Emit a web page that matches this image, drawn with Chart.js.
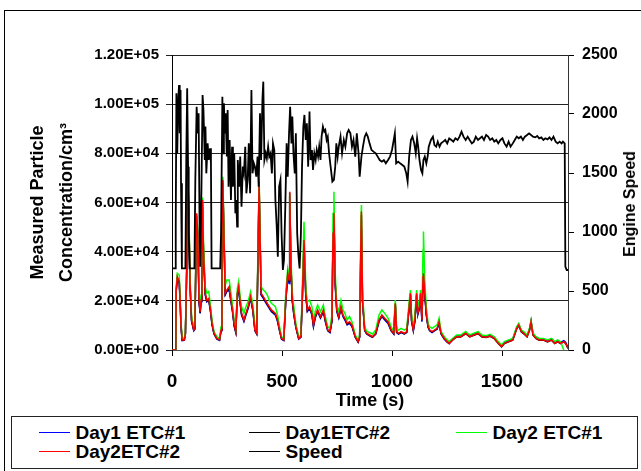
<!DOCTYPE html>
<html>
<head>
<meta charset="utf-8">
<script src="https://cdn.jsdelivr.net/npm/chart.js@4.4.1/dist/chart.umd.min.js"></script>
<style>
  html, body { margin: 0; padding: 0; background: #fff; }
  body { width: 641px; height: 471px; overflow: hidden; position: relative;
         font-family: "Liberation Sans", Arial, sans-serif; font-weight: bold; color: #000; }
  #frame { position: absolute; left: 4px; top: 10px; width: 700px; height: 500px;
           border: 1.5px solid #000; box-sizing: border-box; }
  #chart { position: absolute; left: 0; top: 0; }
  #speed-title { position: absolute; left: 630px; top: 204px; font-size: 16px; white-space: nowrap;
                 transform: translate(-50%, -50%) rotate(-90deg); }
  #legend-box { position: absolute; left: 11px; top: 416px; width: 627px; height: 53px;
                border: 1.5px solid #222; box-sizing: border-box; }
  .swatch { position: absolute; width: 31px; height: 0; border-top: 1.5px solid; }
  .label { position: absolute; font-size: 19px; line-height: 19px; white-space: nowrap; }
</style>
</head>
<body>
<div id="frame"></div>
<canvas id="chart" width="641" height="414"></canvas>
<div id="speed-title">Engine Speed</div>
<div id="legend-box"></div>
<script>
// Time axis (s) shared by the four particle series
const concTime = [
  0, 17, 19, 24, 33, 37, 41, 46, 56, 61,
  67, 71, 76, 82, 89, 99, 104, 108, 112, 117,
  123, 128, 132, 136, 139, 143, 151, 158, 167, 175,
  182, 191, 204, 216, 223, 227, 231, 236, 242, 249,
  260, 268, 275, 283, 290, 297, 303, 309, 316, 327,
  336, 346, 357, 368, 377, 385, 390, 396, 400, 405,
  415, 424, 433, 442, 452, 461, 470, 480, 489, 498,
  508, 517, 526, 532, 535, 541, 547, 554, 563, 576,
  586, 593, 600, 608, 615, 625, 636, 643, 651, 662,
  675, 688, 697, 708, 718, 727, 732, 736, 742, 749,
  758, 768, 777, 786, 796, 807, 818, 833, 846, 853,
  859, 861, 866, 876, 885, 898, 911, 926, 941, 954,
  967, 982, 996, 1008, 1011, 1015, 1021, 1030, 1041, 1056,
  1067, 1078, 1084, 1089, 1097, 1104, 1112, 1117, 1125, 1130,
  1136, 1141, 1143, 1149, 1156, 1164, 1171, 1182, 1193, 1205,
  1214, 1223, 1238, 1251, 1260, 1275, 1294, 1312, 1335, 1353,
  1372, 1391, 1409, 1428, 1446, 1465, 1483, 1498, 1511, 1530,
  1549, 1567, 1576, 1588, 1599, 1614, 1625, 1632, 1641, 1655,
  1669, 1688, 1707, 1725, 1740, 1753, 1766, 1781, 1790, 1800
];

// Day1 ETC#1 (blue)
const day1Etc1 = [
  0, 0, 23800, 28500, 27100, 19000, 9500, 3800, 3900, 6500,
  32600, 70500, 56000, 26000, 11500, 7800, 8400, 32000, 53000, 45000,
  19000, 14900, 19600, 46000, 58300, 39300, 22400, 19600, 20300, 15600,
  10200, 6500, 4400, 3900, 7800, 46100, 67800, 46100, 22400, 23700,
  24400, 19600, 15600, 9500, 7100, 22400, 24400, 19600, 14200, 11500,
  14200, 16900, 21000, 15600, 7800, 6500, 32600, 65100, 46100, 22400,
  21000, 19600, 18300, 16900, 15600, 14900, 14200, 11500, 7800, 4400,
  3900, 19600, 29800, 27100, 62400, 32600, 19600, 14200, 9200, 4400,
  5200, 22400, 42700, 22400, 15600, 16900, 14200, 9500, 13000, 15600,
  13000, 15600, 11500, 7800, 7100, 11500, 46100, 54200, 26400, 15600,
  13000, 16900, 13600, 12200, 10200, 10800, 9500, 5200, 3200, 5200,
  43400, 48800, 19600, 7800, 6500, 5800, 5200, 6500, 11500, 13600,
  12200, 10800, 7800, 6500, 11500, 18300, 7100, 6500, 7100, 6500,
  7100, 16900, 22400, 11500, 7800, 11500, 22400, 14200, 16900, 22400,
  11500, 28500, 29800, 22400, 14200, 9200, 7800, 7100, 7800, 8400,
  10800, 6500, 4400, 3200, 2600, 4300, 5800, 5800, 7100, 5800,
  6500, 7100, 5800, 5600, 6100, 5100, 3100, 1800, 3100, 3800,
  4500, 9200, 10500, 7800, 7100, 5800, 8400, 11800, 6500, 5100,
  4500, 4500, 3800, 4500, 3100, 3800, 3100, 3800, 3100, 800
];

// Day1ETC#2 (black)
const day1Etc2 = [
  0, 0, 24000, 29000, 27800, 19600, 9800, 4000, 4100, 6600,
  33200, 72000, 57500, 26500, 12000, 8000, 8600, 33000, 54500, 46800,
  19700, 15200, 20000, 47000, 60000, 40000, 22700, 20000, 20600, 16000,
  10500, 6600, 4600, 4000, 8000, 47000, 68500, 47000, 22700, 24000,
  25200, 20000, 16000, 9800, 7300, 22700, 25200, 19800, 14600, 12000,
  14600, 17300, 21400, 16000, 8000, 6600, 33200, 67000, 47000, 22700,
  21400, 20000, 18700, 17300, 16000, 15200, 14600, 12000, 8000, 4600,
  4000, 20000, 30500, 28000, 64000, 33200, 20000, 14600, 9300, 4600,
  5300, 22700, 44000, 22700, 16000, 17300, 14600, 9800, 13300, 16000,
  13300, 16000, 12000, 8000, 7300, 12000, 47000, 55000, 26800, 16000,
  13300, 17300, 14000, 12600, 10500, 11200, 9800, 5300, 3300, 5300,
  46000, 55000, 20000, 8000, 6600, 6000, 5300, 6600, 12000, 14000,
  12600, 11200, 8000, 6600, 12000, 18700, 7300, 6600, 7300, 6600,
  7300, 17300, 22700, 12000, 8000, 12000, 22700, 14600, 17300, 22700,
  12000, 29500, 30500, 22700, 14600, 9300, 8000, 7300, 8000, 8600,
  11200, 6600, 4600, 3300, 2700, 4000, 5300, 5300, 6600, 5300,
  6000, 6600, 5300, 5100, 5600, 4600, 2600, 1300, 2600, 3300,
  4000, 8600, 10000, 7300, 6600, 5300, 8000, 11200, 6000, 4600,
  4000, 4000, 3300, 4000, 2600, 3300, 2600, 3300, 2600, 600
];

// Day2 ETC#1 (green)
const day2Etc1 = [
  0, 0, 25800, 31200, 30500, 21700, 11500, 5000, 4700, 7500,
  35000, 71000, 60000, 29800, 13600, 9500, 10200, 35300, 55000, 50200,
  23100, 17600, 22400, 48800, 62000, 44700, 25800, 23100, 23700, 18300,
  12200, 7500, 5400, 4700, 9500, 50200, 70500, 50200, 26400, 28500,
  28500, 23100, 18300, 11500, 8800, 25100, 27800, 22400, 17600, 14900,
  17600, 19700, 23700, 18300, 9500, 7500, 36600, 69800, 50200, 25800,
  24400, 23700, 22400, 20300, 19000, 18300, 17600, 14200, 9500, 5400,
  4700, 23100, 33200, 30500, 63000, 36600, 23100, 17600, 10800, 5400,
  6100, 27100, 52200, 26400, 19700, 20300, 17600, 12200, 15600, 18300,
  15600, 18300, 13600, 9500, 8800, 14200, 55600, 64400, 31200, 18300,
  15600, 20300, 16300, 14900, 12200, 13600, 11500, 6100, 4100, 6100,
  52900, 59000, 23100, 9500, 7500, 7100, 6500, 8100, 14200, 16300,
  14900, 13000, 9500, 7500, 14200, 20300, 8800, 8100, 8800, 8100,
  8800, 19700, 24400, 14200, 9500, 14200, 24400, 17600, 20300, 24400,
  14900, 40700, 48200, 28500, 17600, 10800, 9500, 8800, 9500, 10200,
  12900, 7500, 5400, 4100, 3400, 4700, 6100, 6100, 7500, 6100,
  6800, 7500, 6100, 5800, 6400, 5400, 3400, 2000, 3400, 4100,
  4700, 9500, 10800, 8100, 7500, 6100, 8800, 12200, 6800, 5400,
  4700, 4700, 4100, 4700, 3400, 4100, 3400, 0, null, null
];

// Day2ETC#2 (red)
const day2Etc2 = [
  0, 0, 24400, 29800, 28000, 20300, 10200, 4100, 4100, 6800,
  33900, 73200, 58300, 27100, 12200, 8100, 8800, 33900, 55600, 47500,
  20300, 15600, 20300, 47500, 61000, 40700, 23100, 20300, 21000, 16300,
  10800, 6800, 4700, 4100, 8100, 47500, 69200, 47500, 23100, 24400,
  25800, 20300, 16300, 10200, 7500, 23100, 25800, 20300, 14900, 12200,
  14900, 17600, 21700, 16300, 8100, 6800, 33900, 68500, 47500, 23100,
  21700, 20300, 19000, 17600, 16300, 15600, 14900, 12200, 8100, 4700,
  4100, 20300, 31200, 28500, 64400, 33900, 20300, 14900, 9500, 4700,
  5400, 23100, 44700, 23100, 16300, 17600, 14900, 10200, 13600, 16300,
  13600, 16300, 12200, 8100, 7500, 12200, 47500, 55600, 27100, 16300,
  13600, 17600, 14200, 12900, 10800, 11500, 10200, 5400, 3400, 5400,
  47500, 56300, 20300, 8100, 6800, 6100, 5400, 6800, 12200, 14200,
  12900, 11500, 8100, 6800, 12200, 19000, 7500, 6800, 7500, 6800,
  7500, 17600, 23100, 12200, 8100, 12200, 23100, 14900, 17600, 23100,
  12200, 29800, 31200, 23100, 14900, 9500, 8100, 7500, 8100, 8800,
  11500, 6800, 4700, 3400, 2700, 4100, 5400, 5400, 6800, 5400,
  6100, 6800, 5400, 5200, 5700, 4700, 2700, 1400, 2700, 3400,
  4100, 8800, 10200, 7500, 6800, 5400, 8100, 11500, 6100, 4700,
  4100, 4100, 3400, 4100, 2700, 3400, 2700, 3400, 2700, 700
];

// Engine speed trace
const speedTime = [
  0, 15, 17, 20, 24, 28, 32, 35, 39, 41,
  45, 61, 65, 69, 73, 76, 80, 86, 102, 106,
  112, 117, 121, 125, 128, 134, 139, 143, 149, 152,
  156, 162, 167, 173, 177, 180, 219, 223, 229, 232,
  236, 240, 244, 249, 253, 257, 262, 268, 273, 277,
  283, 288, 292, 296, 299, 305, 310, 316, 322, 327,
  333, 338, 344, 349, 355, 361, 366, 372, 377, 383,
  389, 394, 400, 405, 411, 415, 420, 426, 431, 437,
  442, 448, 454, 459, 465, 470, 476, 481, 487, 493,
  498, 504, 509, 515, 521, 526, 532, 537, 543, 547,
  552, 558, 563, 569, 574, 580, 586, 591, 597, 602,
  608, 613, 619, 625, 630, 636, 641, 647, 653, 658,
  664, 669, 675, 680, 686, 692, 697, 703, 708, 714,
  721, 729, 736, 742, 747, 753, 758, 766, 773, 781,
  788, 796, 803, 811, 818, 825, 833, 840, 848, 853,
  861, 868, 876, 883, 890, 898, 907, 916, 926, 935,
  944, 954, 963, 972, 982, 991, 1000, 1008, 1013, 1019,
  1028, 1037, 1047, 1056, 1065, 1071, 1078, 1086, 1093, 1101,
  1108, 1114, 1119, 1125, 1132, 1138, 1143, 1149, 1156, 1162,
  1167, 1177, 1186, 1193, 1201, 1208, 1216, 1223, 1233, 1242,
  1251, 1260, 1270, 1279, 1288, 1298, 1307, 1316, 1325, 1335,
  1344, 1353, 1363, 1372, 1381, 1391, 1400, 1409, 1418, 1428,
  1437, 1446, 1456, 1465, 1474, 1483, 1493, 1502, 1511, 1521,
  1530, 1539, 1549, 1558, 1567, 1576, 1586, 1595, 1604, 1614,
  1623, 1632, 1641, 1651, 1660, 1669, 1679, 1688, 1697, 1707,
  1716, 1725, 1734, 1744, 1753, 1762, 1771, 1777, 1785, 1788,
  1794, 1800
];
const speedRpm = [
  692, 692, 1045, 2175, 1667, 2119, 2246, 1836, 2204, 1413,
  692, 692, 1639, 2218, 1554, 989, 692, 692, 692, 1441,
  2062, 1836, 2006, 1130, 706, 1384, 2161, 2034, 1610, 1893,
  1497, 1751, 1610, 1709, 1582, 692, 692, 989, 2147, 1667,
  2091, 1836, 2006, 1639, 2034, 1384, 1780, 1271, 1723, 1384,
  1667, 1158, 1271, 1045, 1610, 1384, 1639, 1215, 1554, 1497,
  1723, 1328, 1441, 1751, 1328, 2204, 1497, 1582, 1554, 1469,
  1639, 1384, 2006, 1610, 2119, 2274, 1610, 1667, 1624, 1723,
  1639, 1667, 1497, 1751, 1695, 1271, 1045, 791, 1384, 1441,
  989, 678, 763, 1215, 1751, 1469, 1836, 2062, 1751, 1978,
  1667, 1497, 1836, 989, 819, 692, 989, 1554, 1893, 1992,
  1780, 1921, 1554, 2020, 1610, 1695, 1526, 1667, 1610, 1695,
  1639, 1723, 1610, 1808, 1893, 1850, 1864, 1780, 1808, 1667,
  1554, 1427, 1441, 1554, 1751, 1639, 1723, 1808, 1667, 1780,
  1723, 1836, 1864, 1836, 1723, 1780, 1639, 1836, 1667, 1469,
  1639, 1723, 1808, 1836, 1808, 1751, 1695, 1681, 1667, 1639,
  1610, 1596, 1610, 1582, 1610, 1639, 1695, 1780, 1836, 1582,
  1596, 1582, 1568, 1554, 1497, 1427, 1639, 1780, 1808, 1751,
  1667, 1794, 1723, 1610, 1526, 1497, 1610, 1639, 1582, 1639,
  1723, 1780, 1808, 1737, 1723, 1766, 1723, 1751, 1766, 1780,
  1751, 1794, 1780, 1766, 1794, 1780, 1808, 1850, 1808, 1780,
  1808, 1780, 1751, 1766, 1808, 1780, 1794, 1808, 1780, 1822,
  1808, 1780, 1794, 1766, 1780, 1751, 1780, 1794, 1751, 1723,
  1766, 1723, 1751, 1780, 1808, 1794, 1808, 1780, 1808, 1822,
  1836, 1822, 1808, 1802, 1814, 1794, 1802, 1780, 1794, 1785,
  1802, 1780, 1808, 1766, 1751, 1766, 1751, 1766, 1751, 706,
  678, 678
];

// axis tick values
const timeTicks = [0, 500, 1000, 1500];
const yTitleLines = ["Measured Particle", "Concentration/cm\u00B3"];

Chart.defaults.font.family = '"Liberation Sans", Arial, sans-serif';
Chart.defaults.font.weight = "bold";
Chart.defaults.color = "#000";

// pair time with values for a linear x axis
function toPoints(times, values) {
  return times.map((t, i) => ({ x: t, y: values[i] }));
}

// 1.20E+05 style labels
function sciLabel(v) {
  const parts = Number(v).toExponential(2).split("e");
  const sign = parts[1][0];
  const digits = parts[1].slice(1).padStart(2, "0");
  return parts[0] + "E" + sign + digits;
}

const datasets = [
  { label: "Day1 ETC#1", data: toPoints(concTime, day1Etc1), borderColor: "#0000FF", borderWidth: 1.5, yAxisID: "y", order: 4 },
  { label: "Day1ETC#2", data: toPoints(concTime, day1Etc2), borderColor: "#000000", borderWidth: 1.5, yAxisID: "y", order: 3 },
  { label: "Day2 ETC#1", data: toPoints(concTime, day2Etc1), borderColor: "#00FF00", borderWidth: 1.5, yAxisID: "y", order: 2 },
  { label: "Day2ETC#2", data: toPoints(concTime, day2Etc2), borderColor: "#FF0000", borderWidth: 1.5, yAxisID: "y", order: 1 },
  { label: "Speed", data: toPoints(speedTime, speedRpm), borderColor: "#000000", borderWidth: 1.8, yAxisID: "y1", order: 0 }
];

new Chart(document.getElementById("chart"), {
  type: "line",
  data: { datasets: datasets },
  options: {
    responsive: false,
    animation: false,
    layout: { padding: { top: 55, left: 0, right: 0, bottom: 0 } },
    elements: { point: { radius: 0 }, line: { tension: 0, fill: false } },
    plugins: { legend: { display: false }, tooltip: { enabled: false } },
    scales: {
      x: {
        type: "linear",
        min: 0,
        max: 1800,
        ticks: { padding: 14, maxRotation: 0, autoSkip: false, font: { size: 19 }, callback: (v) => String(v) },
        afterBuildTicks: (axis) => { axis.ticks = timeTicks.map(v => ({ value: v })); },
        afterFit: (axis) => { axis.height = 64; },
        grid: { drawOnChartArea: false, tickLength: 6, color: "#000" },
        border: { color: "#555", width: 1 },
        title: { display: true, text: "Time (s)", font: { size: 18 }, padding: { top: 0, bottom: 2 } }
      },
      y: {
        position: "left",
        min: 0,
        max: 120000,
        ticks: { stepSize: 20000, padding: 7, callback: sciLabel, font: { size: 15 } },
        afterFit: (axis) => { axis.width = 172; },
        grid: { color: "#222", tickLength: 6 },
        border: { color: "#000", width: 1 },
        title: { display: true, text: yTitleLines, font: { size: 18, lineHeight: 1.64 }, padding: { top: 23, bottom: 0 } }
      },
      y1: {
        position: "right",
        min: 0,
        max: 2500,
        ticks: { stepSize: 500, padding: 8, font: { size: 16 }, callback: (v) => String(v) },
        afterFit: (axis) => { axis.width = 73; },
        grid: { drawOnChartArea: false, tickLength: 6, color: "#000" },
        border: { color: "#333", width: 1 }
      }
    }
  }
});

// legend in three columns, as in the original
const legendCols = [39, 249, 456];
const legendRows = [432.5, 451.7];
datasets.forEach((ds, i) => {
  const col = legendCols[i % 3];
  const mid = legendRows[Math.floor(i / 3)];
  const sw = document.createElement("div");
  sw.className = "swatch";
  sw.style.left = col + "px";
  sw.style.top = (mid - 0.75) + "px";
  sw.style.borderTopColor = ds.borderColor;
  document.body.appendChild(sw);
  const lb = document.createElement("div");
  lb.className = "label";
  lb.style.left = (col + 36.5) + "px";
  lb.style.top = (mid - 9.3) + "px";
  lb.textContent = ds.label;
  document.body.appendChild(lb);
});
</script>
</body>
</html>
